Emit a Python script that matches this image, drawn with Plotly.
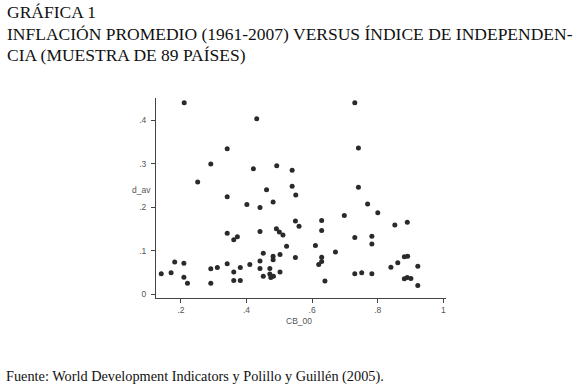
import plotly.graph_objects as go

# CB_00 (central bank independence index) and d_av (average inflation)
cb_00 = [0.210, 0.341, 0.291, 0.251, 0.341, 0.431, 0.421, 0.492, 0.539, 0.461,
         0.539, 0.550, 0.730, 0.741, 0.741, 0.769, 0.800, 0.698, 0.401, 0.341,
         0.361, 0.372, 0.140, 0.170, 0.181, 0.209, 0.209, 0.220, 0.291, 0.311,
         0.341, 0.291, 0.361, 0.381, 0.361, 0.381, 0.410, 0.481, 0.441, 0.549,
         0.560, 0.629, 0.629, 0.441, 0.491, 0.500, 0.511, 0.522, 0.610, 0.671,
         0.451, 0.481, 0.481, 0.502, 0.549, 0.629, 0.629, 0.620, 0.441, 0.441,
         0.471, 0.451, 0.471, 0.474, 0.482, 0.502, 0.639, 0.852, 0.890, 0.730,
         0.782, 0.782, 0.881, 0.891, 0.861, 0.840, 0.922, 0.730, 0.751, 0.782,
         0.881, 0.890, 0.901, 0.922]
d_av = [0.440, 0.334, 0.299, 0.258, 0.224, 0.403, 0.288, 0.295, 0.285, 0.240,
        0.248, 0.228, 0.440, 0.336, 0.246, 0.207, 0.187, 0.181, 0.206, 0.140,
        0.125, 0.132, 0.047, 0.049, 0.074, 0.071, 0.039, 0.025, 0.058, 0.061,
        0.070, 0.025, 0.051, 0.061, 0.031, 0.031, 0.068, 0.212, 0.199, 0.168,
        0.156, 0.169, 0.146, 0.144, 0.150, 0.143, 0.136, 0.110, 0.112, 0.097,
        0.094, 0.087, 0.079, 0.091, 0.084, 0.085, 0.075, 0.068, 0.076, 0.059,
        0.059, 0.041, 0.046, 0.038, 0.041, 0.051, 0.030, 0.159, 0.165, 0.130,
        0.133, 0.115, 0.086, 0.087, 0.072, 0.062, 0.064, 0.047, 0.049, 0.047,
        0.035, 0.038, 0.036, 0.020]

x_ticks = [0.2, 0.4, 0.6, 0.8, 1.0]
x_ticklabels = [".2", ".4", ".6", ".8", "1"]
y_ticks = [0, 0.1, 0.2, 0.3, 0.4]
y_ticklabels = ["0", ".1", ".2", ".3", ".4"]

title_lines = ["GRÁFICA 1",
               "INFLACIÓN PROMEDIO (1961-2007) VERSUS ÍNDICE DE INDEPENDEN-",
               "CIA (MUESTRA DE 89 PAÍSES)"]
source_text = "Fuente: World Development Indicators y Polillo y Guillén (2005)."

W, H = 575, 390
L, R, T, B = 156, 129, 98, 92
pw, ph = W - L - R, H - T - B

def px(x):
    return (x - L) / pw

def py(y):
    return (H - B - y) / ph

fig = go.Figure()
fig.add_trace(go.Scatter(
    x=cb_00, y=d_av, mode="markers",
    marker=dict(size=5, color="#2a2a2a"),
    showlegend=False, hoverinfo="x+y"))

axis_font = dict(family="Liberation Sans, Arial, sans-serif", size=8.5, color="#555555")
fig.update_layout(
    width=W, height=H,
    margin=dict(l=L, r=R, t=T, b=B, pad=0),
    paper_bgcolor="white", plot_bgcolor="white",
    xaxis=dict(range=[0.124, 1.008], tickvals=x_ticks, ticktext=x_ticklabels,
               showline=True, linecolor="#444444", linewidth=1,
               ticks="outside", ticklen=4, tickcolor="#444444",
               showgrid=False, zeroline=False, tickfont=axis_font),
    yaxis=dict(range=[-0.009, 0.451], tickvals=y_ticks, ticktext=y_ticklabels,
               showline=True, linecolor="#444444", linewidth=1,
               ticks="outside", ticklen=4, tickcolor="#444444",
               ticklabelstandoff=3,
               showgrid=False, zeroline=False, tickfont=axis_font),
)

serif = "Liberation Serif, Times New Roman, serif"
annotations = []
for i, line in enumerate(title_lines):
    annotations.append(dict(text=line, xref="paper", yref="paper",
                            x=px(5), y=py(12 + 21.5 * i), xanchor="left", yanchor="middle",
                            showarrow=False, font=dict(family=serif, size=17.5, color="#111111")))
annotations.append(dict(text=source_text, xref="paper", yref="paper",
                        x=px(4), y=py(376), xanchor="left", yanchor="middle",
                        showarrow=False, font=dict(family=serif, size=14.3, color="#111111")))
annotations.append(dict(text="d_av", xref="paper", yref="paper",
                        x=px(141), y=py(190), xanchor="center", yanchor="middle",
                        showarrow=False, font=axis_font))
annotations.append(dict(text="CB_00", xref="paper", yref="paper",
                        x=px(299), y=py(321), xanchor="center", yanchor="middle",
                        showarrow=False, font=axis_font))
fig.update_layout(annotations=annotations)

fig.write_html("out.html", config={"displayModeBar": False},
               post_script="document.body.style.margin='0';document.body.style.padding='0';")
